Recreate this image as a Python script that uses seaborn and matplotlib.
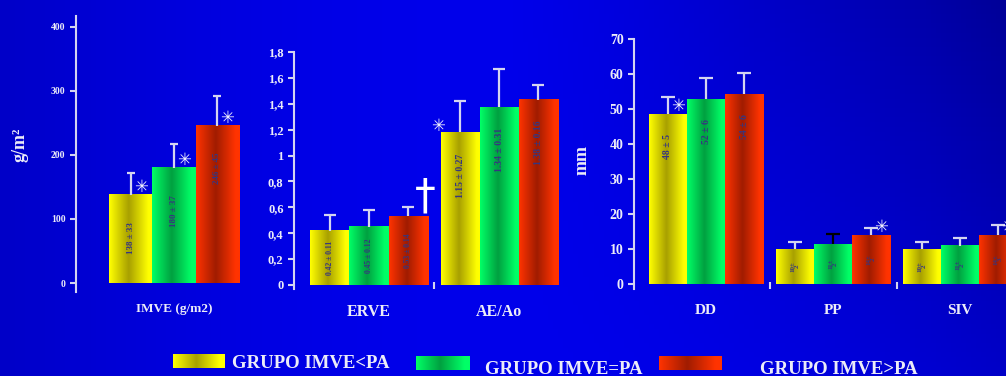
# bar chart: echo parameters by IMVE group (blue slide style)

import numpy as np
import pandas as pd
import seaborn as sns
import matplotlib.pyplot as plt
from matplotlib.colors import to_rgb
from matplotlib.container import BarContainer

groups = ["GRUPO IMVE<PA", "GRUPO IMVE=PA", "GRUPO IMVE>PA"]

imve_cats = ["IMVE (g/m2)"]
imve_mean = [138, 180, 246]
imve_sd = [34, 37, 46]
imve_text = ["138 ± 33", "180 ± 37", "246 ± 45"]
imve_marks = ["✳", "✳", "✳"]
imve_ticks = [0, 100, 200, 300, 400]

mid_cats = ["ERVE", "AE/Ao"]
erve_mean = [0.42, 0.45, 0.53]
erve_sd = [0.12, 0.13, 0.07]
erve_text = ["0.42 ± 0.11", "0.45 ± 0.12", "0.53 ± 0.14"]
erve_marks = ["", "", "†"]
aeao_mean = [1.18, 1.375, 1.43]
aeao_sd = [0.24, 0.29, 0.115]
aeao_text = ["1.15 ± 0.27", "1.34 ± 0.31", "1.38 ± 0.16"]
aeao_marks = ["✳", "", ""]
mid_ticks = [0, 0.2, 0.4, 0.6, 0.8, 1.0, 1.2, 1.4, 1.6, 1.8]
mid_ticklabels = ["0", "0,2", "0,4", "0,6", "0,8", "1", "1,2", "1,4", "1,6", "1,8"]

mm_cats = ["DD", "PP", "SIV"]
dd_mean = [48.5, 52.8, 54.2]
dd_sd = [5, 6, 6]
dd_text = ["48 ± 5", "52 ± 6", "54 ± 6"]
dd_marks = ["✳", "", ""]
pp_mean = [10, 11.4, 14]
pp_sd = [2.1, 2.9, 2.1]
pp_text = ["10±\n2", "11±\n2", "14±\n2"]
pp_marks = ["", "", "✳"]
siv_mean = [10, 10.9, 14]
siv_sd = [2.1, 2.2, 2.9]
siv_text = ["10±\n2", "11±\n2", "14±\n3"]
siv_marks = ["", "", "✳"]
mm_ticks = [0, 10, 20, 30, 40, 50, 60, 70]

bright = ["#ffff00", "#00ff66", "#ff3300"]
dark = ["#a8a000", "#00a040", "#a01c00"]
AXC = "#d4d4f0"
TXT = "#ececf8"
LAB = "#363680"

sns.set_theme(style="white")
plt.rcParams['font.family'] = ['Liberation Serif', 'DejaVu Sans']
plt.rcParams['font.weight'] = 'bold'

W, H = 1006, 376
fig = plt.figure(figsize=(W / 100, H / 100), dpi=100)


def grad(i, n=80):
    t = np.linspace(0, 1, n)
    w = np.clip(1 - np.abs(t - 0.45) / 0.45, 0, 1)[:, None]
    c = (1 - w) * np.array(to_rgb(bright[i])) + w * np.array(to_rgb(dark[i]))
    return c[None, :, :]


# background
bg = fig.add_axes([0, 0, 1, 1], zorder=-5)
xx, yy = np.meshgrid(np.linspace(0, 1, 200), np.linspace(0, 1, 80))
b = 235 - 35 * ((xx - 0.5) * 2) ** 2 - 48 * np.clip((xx - 0.5) * 2, 0, 1) * (1 - yy)
img = np.zeros(xx.shape + (3,))
img[..., 2] = b / 255
bg.imshow(img, aspect='auto', extent=[0, 1, 0, 1], origin='upper')
bg.axis('off')


def px(x0, y0, x1, y1):
    return [x0 / W, 1 - y1 / H, (x1 - x0) / W, (y1 - y0) / H]


def panel(rect, cats, means, sds, texts, marks, xlim, ylim, ticks, tlabels,
          tsize, xsize, xpad, capsize, lab_mode, lab_size, err_colors=None):
    ax = fig.add_axes(rect, zorder=1)
    ax.set_facecolor('none')
    df = pd.DataFrame({
        "cat": [c for c in cats for _ in groups],
        "group": groups * len(cats),
        "val": [v for m in means for v in m],
    })
    sns.barplot(data=df, x="cat", y="val", hue="group", order=cats, hue_order=groups,
                palette=bright, errorbar=None, width=0.9, legend=False,
                saturation=1, linewidth=0, ax=ax)
    conts = [c for c in ax.containers if isinstance(c, BarContainer)]
    for gi, cont in enumerate(conts):
        for ci, bar in enumerate(cont):
            x0, w, h = bar.get_x(), bar.get_width(), bar.get_height()
            cx = x0 + w / 2
            ax.imshow(grad(gi), extent=[x0, x0 + w, 0, h], aspect='auto',
                      interpolation='bilinear', zorder=2)
            ec = AXC if err_colors is None else err_colors[ci][gi]
            _, caps, _ = ax.errorbar([cx], [h], yerr=[[0], [sds[ci][gi]]], fmt='none',
                                     ecolor=ec, elinewidth=1.6, capsize=capsize,
                                     capthick=1.6, zorder=3)
            caps[0].set_visible(False)
            caps[1].set_color(AXC)
            mode, off = lab_mode[ci]
            if mode == "top":
                ax.annotate(texts[ci][gi], xy=(cx, h), xytext=(0, -off * 0.72),
                            textcoords='offset points', rotation=90, ha='center',
                            va='top', fontsize=lab_size[ci], color=LAB, zorder=4,
                            linespacing=0.9)
            else:
                ax.text(cx, h / 2, texts[ci][gi], rotation=90, ha='center', va='center',
                        fontsize=lab_size[ci], color=LAB, zorder=4, linespacing=0.9)
            m = marks[ci][gi]
            if m == "✳":
                dx, dy = (-22, 6) if (ci, gi) == (1, 0) and cats[1] == "AE/Ao" else (10, 8)
                ax.annotate(m, xy=(cx, h), xytext=(dx * 0.72, dy * 0.72),
                            textcoords='offset points', ha='center', va='center',
                            fontsize=12, color="#f0f0ff", family='DejaVu Sans',
                            zorder=5, annotation_clip=False)
            elif m == "†":
                ax.annotate(m, xy=(cx, h), xytext=(17 * 0.72, 20 * 0.72),
                            textcoords='offset points', ha='center', va='center',
                            fontsize=30, color="white", family='DejaVu Sans',
                            fontweight='normal', zorder=5)
    ax.set_xlim(*xlim)
    ax.set_ylim(*ylim)
    ax.set_yticks(ticks)
    ax.set_yticklabels(tlabels)
    ax.set_xlabel("")
    ax.set_ylabel("")
    for s in ["top", "right", "bottom"]:
        ax.spines[s].set_visible(False)
    ax.spines["left"].set_color(AXC)
    ax.spines["left"].set_linewidth(1.5)
    ax.tick_params(axis='y', left=True, length=4.5, width=1.5, color=AXC,
                   labelcolor=TXT, labelsize=tsize, pad=3)
    ax.tick_params(axis='x', which='major', length=0, labelcolor=TXT,
                   labelsize=xsize, pad=xpad)
    if len(cats) > 1:
        ax.set_xticks([i + 0.5 for i in range(len(cats) - 1)], minor=True)
        ax.tick_params(axis='x', which='minor', bottom=True, direction='in',
                       length=5, width=1.5, color=AXC)
    return ax


panel(px(76, 16, 262, 292), imve_cats, [imve_mean], [imve_sd], [imve_text], [imve_marks],
      (-0.679, 0.61), (-14, 417), imve_ticks, [str(t) for t in imve_ticks],
      7, 9.5, 8, 3, [("top", 27)], [6.5])

panel(px(294, 52, 575, 289), mid_cats, [erve_mean, aeao_mean], [erve_sd, aeao_sd],
      [erve_text, aeao_text], [erve_marks, aeao_marks],
      (-0.575, 1.58), (-0.031, 1.8), mid_ticks, mid_ticklabels,
      9, 11.5, 11, 4, [("center", 0), ("top", 21)], [5.5, 7])

panel(px(634, 39, 1006, 289), mm_cats, [dd_mean, pp_mean, siv_mean], [dd_sd, pp_sd, siv_sd],
      [dd_text, pp_text, siv_text], [dd_marks, pp_marks, siv_marks],
      (-0.567, 2.362), (-1.43, 70), mm_ticks, [str(t) for t in mm_ticks],
      10, 11, 11, 4.7, [("top", 20), ("center", 0), ("center", 0)], [7, 5, 5],
      err_colors=[[AXC] * 3, [AXC, "black", AXC], [AXC] * 3])

fig.text(20 / W, 1 - 145 / H, "g/m²", rotation=90, ha='center', va='center',
         fontsize=13, color=TXT)
fig.text(582 / W, 1 - 160 / H, "mm", rotation=90, ha='center', va='center',
         fontsize=13, color=TXT)

# legend with gradient swatches
sw = [(173, 354, 225, 368), (416, 356, 470, 370), (659, 356, 722, 370)]
tx = [(232, 363), (485, 369), (760, 369)]
for i, g in enumerate(groups):
    la = fig.add_axes(px(*sw[i]), zorder=2)
    la.imshow(grad(i), aspect='auto', interpolation='bilinear')
    la.axis('off')
    fig.text(tx[i][0] / W, 1 - tx[i][1] / H, g, ha='left', va='center',
             fontsize=13.5, color=TXT)

fig.savefig("out.png", dpi=100)
